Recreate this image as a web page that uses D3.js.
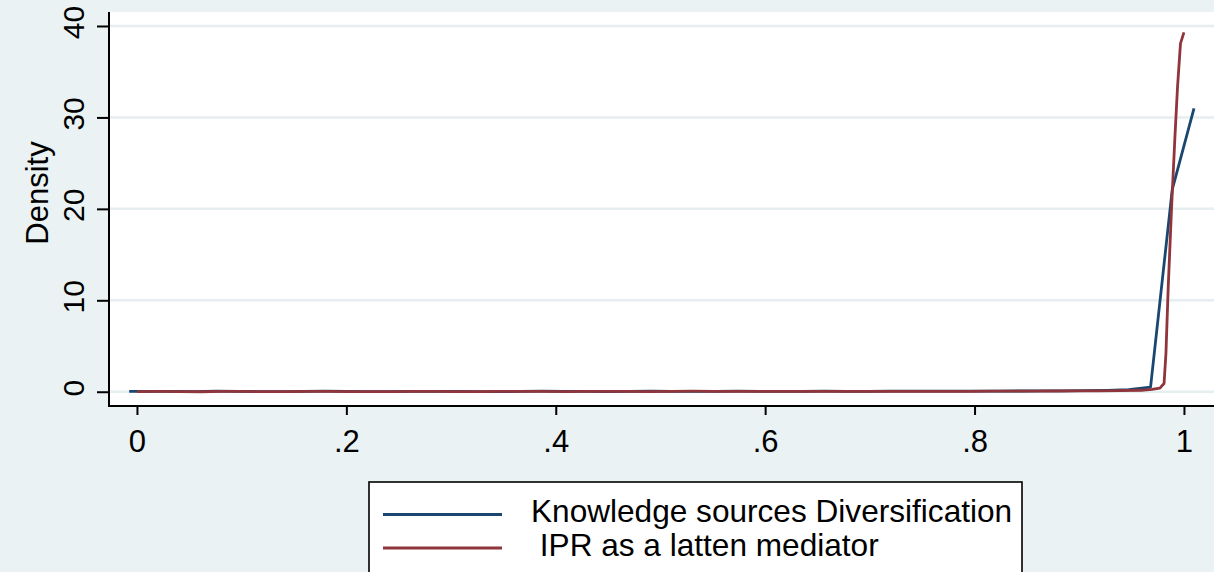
<!DOCTYPE html>
<html>
<head>
<meta charset="utf-8">
<script src="https://cdn.jsdelivr.net/npm/d3@7"></script>
<style>
  html, body { margin: 0; padding: 0; background: #eaf2f3; }
  svg { display: block; }
  text { font-family: "Liberation Sans", Arial, Helvetica, sans-serif; fill: #000; }
</style>
</head>
<body>
<svg id="chart" width="1214" height="572"></svg>
<script>
// ---- Data ----
const seriesNames = ["Knowledge sources Diversification", " IPR as a latten mediator"];

const blueX = [-0.0074, 0.0134, 0.0341, 0.0549, 0.0756, 0.0964, 0.1171, 0.1379, 0.1586, 0.1794,
               0.2002, 0.2209, 0.2417, 0.2624, 0.2832, 0.3039, 0.3247, 0.3454, 0.3662, 0.3869,
               0.4077, 0.4285, 0.4492, 0.4700, 0.4907, 0.5115, 0.5322, 0.5530, 0.5737, 0.5945,
               0.6153, 0.6360, 0.6568, 0.6775, 0.6983, 0.7190, 0.7398, 0.7605, 0.7813, 0.8020,
               0.8228, 0.8436, 0.8643, 0.8851, 0.9058, 0.9266, 0.9473, 0.9681, 0.9888, 1.0096];
const blueY = [0.03, 0.05, 0.04, 0.02, 0.06, 0.05, 0.02, 0.01, 0.03, 0.06,
               0.04, 0.02, 0.01, 0.03, 0.05, 0.03, 0.02, 0.01, 0.04, 0.07,
               0.05, 0.03, 0.02, 0.04, 0.06, 0.04, 0.03, 0.05, 0.07, 0.05,
               0.04, 0.05, 0.06, 0.05, 0.05, 0.06, 0.06, 0.06, 0.07, 0.07,
               0.07, 0.08, 0.09, 0.10, 0.12, 0.15, 0.22, 0.50, 22.1, 31.0];

const redX = [0.0000, 0.0204, 0.0408, 0.0612, 0.0816, 0.1020, 0.1224, 0.1429, 0.1633, 0.1837,
              0.2041, 0.2245, 0.2449, 0.2653, 0.2857, 0.3061, 0.3265, 0.3469, 0.3673, 0.3878,
              0.4082, 0.4286, 0.4490, 0.4694, 0.4898, 0.5102, 0.5306, 0.5510, 0.5714, 0.5918,
              0.6122, 0.6327, 0.6531, 0.6735, 0.6939, 0.7143, 0.7347, 0.7551, 0.7755, 0.7959,
              0.8163, 0.8367, 0.8571, 0.8776, 0.8980, 0.9184, 0.9388, 0.9592,
              0.9694, 0.9770, 0.9810, 0.9828, 0.9850, 0.9882, 0.9914, 0.9939, 0.9967, 1.0000];
const redY = [0.02, 0.03, 0.02, 0.00, 0.04, 0.03, 0.01, 0.02, 0.03, 0.05,
              0.02, 0.01, 0.02, 0.04, 0.03, 0.02, 0.01, 0.03, 0.05, 0.04,
              0.02, 0.03, 0.05, 0.03, 0.02, 0.04, 0.06, 0.04, 0.03, 0.04,
              0.04, 0.04, 0.05, 0.05, 0.05, 0.05, 0.05, 0.05, 0.05, 0.05,
              0.06, 0.06, 0.07, 0.08, 0.09, 0.10, 0.12, 0.16,
              0.25, 0.40, 0.90, 4.2, 11.5, 20.2, 27.9, 33.4, 38.1, 39.3];

const xTicks = [0, 0.2, 0.4, 0.6, 0.8, 1];
const xTickLabels = ["0", ".2", ".4", ".6", ".8", "1"];
const yTicks = [0, 10, 20, 30, 40];
const yTickLabels = ["0", "10", "20", "30", "40"];
const yTitle = "Density";

const colors = ["#1a476f", "#90353b"];

// ---- Layout ----
const W = 1214, H = 572;
const plot = { left: 109, top: 12, right: 1214, bottom: 406 };

const svg = d3.select("#chart");
svg.append("rect").attr("x", 0).attr("y", 0).attr("width", W).attr("height", H).attr("fill", "#eaf2f3");

const x = d3.scaleLinear().domain([-0.0267, 1.0287]).range([plot.left, plot.right]);
const y = d3.scaleLinear().domain([-1.56, 41.53]).range([plot.bottom, plot.top]);

// plot region
svg.append("rect")
  .attr("x", plot.left).attr("y", plot.top)
  .attr("width", plot.right - plot.left).attr("height", plot.bottom - plot.top)
  .attr("fill", "#ffffff");

// gridlines
svg.append("g").selectAll("line").data(yTicks).join("line")
  .attr("x1", plot.left).attr("x2", plot.right)
  .attr("y1", d => y(d)).attr("y2", d => y(d))
  .attr("stroke", "#e6eef0").attr("stroke-width", 2.5);

// series
const line = d3.line().x(d => x(d[0])).y(d => y(d[1]));
const blueData = blueX.map((v, i) => [v, blueY[i]]);
const redData = redX.map((v, i) => [v, redY[i]]);
[blueData, redData].forEach((data, i) => {
  svg.append("path").datum(data)
    .attr("d", line)
    .attr("fill", "none")
    .attr("stroke", colors[i])
    .attr("stroke-width", 2.8)
    .attr("stroke-linejoin", "round");
});

// axes
const xAxis = d3.axisBottom(x).tickValues(xTicks)
  .tickFormat((d, i) => xTickLabels[i]).tickSize(9).tickPadding(6);
const gx = svg.append("g").attr("transform", `translate(0,${plot.bottom})`).call(xAxis);
gx.select(".domain").remove();
gx.selectAll(".tick line").attr("stroke", "#000").attr("stroke-width", 2);
gx.selectAll(".tick text")
  .attr("font-size", 31).attr("font-family", "Liberation Sans, Arial, sans-serif")
  .attr("y", 46).attr("dy", null);
svg.append("line").attr("x1", plot.left - 1).attr("x2", plot.right)
  .attr("y1", plot.bottom).attr("y2", plot.bottom)
  .attr("stroke", "#000").attr("stroke-width", 2);

const yAxis = d3.axisLeft(y).tickValues(yTicks)
  .tickFormat((d, i) => yTickLabels[i]).tickSize(12);
const gy = svg.append("g").attr("transform", `translate(${plot.left},0)`).call(yAxis);
gy.select(".domain").remove();
gy.selectAll(".tick line").attr("stroke", "#000").attr("stroke-width", 2);
gy.selectAll(".tick text")
  .attr("font-size", 30).attr("font-family", "Liberation Sans, Arial, sans-serif")
  .attr("x", null).attr("dy", null)
  .attr("text-anchor", "middle")
  .attr("transform", "translate(-25.5,-4) rotate(-90)");
svg.append("line").attr("x1", plot.left).attr("x2", plot.left)
  .attr("y1", plot.top).attr("y2", plot.bottom + 1)
  .attr("stroke", "#000").attr("stroke-width", 2);

// y title
svg.append("text")
  .attr("transform", `translate(48,193) rotate(-90)`)
  .attr("text-anchor", "middle")
  .attr("font-size", 31)
  .text(yTitle);

// legend
const lg = svg.append("g");
lg.append("rect").attr("x", 369).attr("y", 482).attr("width", 653).attr("height", 110)
  .attr("fill", "#ffffff").attr("stroke", "#000").attr("stroke-width", 1.6);
const legendRows = [514.5, 548];
seriesNames.forEach((name, i) => {
  lg.append("line").attr("x1", 383).attr("x2", 502)
    .attr("y1", legendRows[i]).attr("y2", legendRows[i])
    .attr("stroke", colors[i]).attr("stroke-width", 2.8);
  lg.append("text").attr("x", 531).attr("y", legendRows[i] + 7.5)
    .attr("font-size", 31.6)
    .style("white-space", "pre")
    .text(name);
});
</script>
</body>
</html>
